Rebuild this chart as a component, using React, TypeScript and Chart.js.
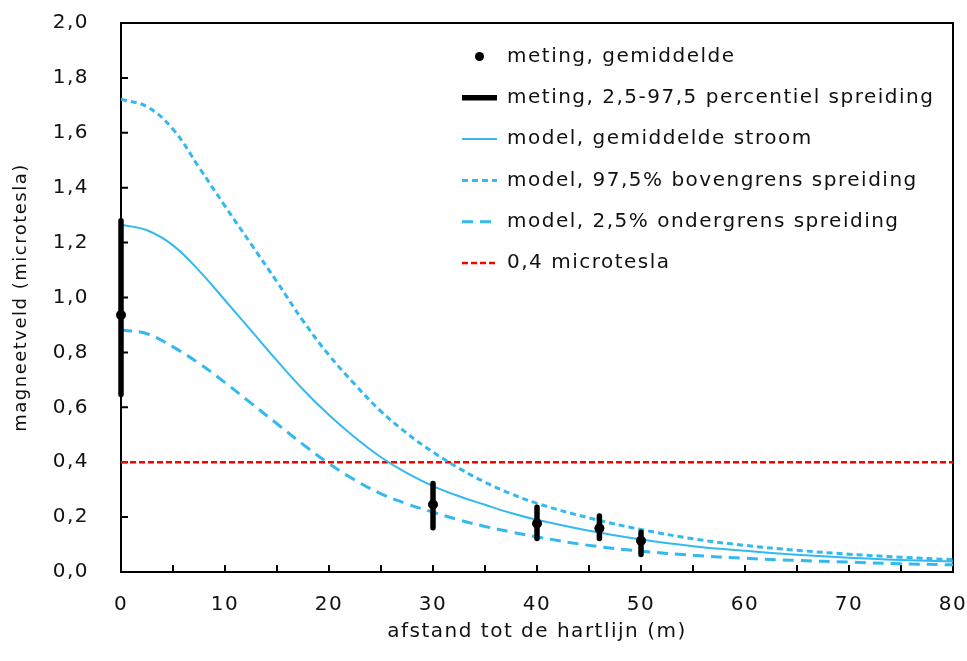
import React, { useEffect, useRef } from 'react';
import { Chart, registerables } from 'chart.js';

Chart.register(...registerables);

const FONT = '"DejaVu Sans", Verdana, sans-serif';
const BLUE = '#33b9ef';
const SPACING = '1.5px';

// model curves (afstand in m → microtesla)
const modelDistance = [0, 2.5, 5, 7.5, 10, 12.5, 15, 17.5, 20, 22.5, 25, 27.5, 30, 32.5, 35, 37.5, 40, 45, 50, 55, 60, 65, 70, 75, 80];
const modelMean = [1.265, 1.245, 1.19, 1.098, 0.99, 0.88, 0.77, 0.665, 0.572, 0.49, 0.418, 0.36, 0.313, 0.276, 0.245, 0.215, 0.19, 0.15, 0.118, 0.094, 0.077, 0.063, 0.052, 0.044, 0.038];
const modelUpper = [1.722, 1.695, 1.613, 1.474, 1.333, 1.195, 1.057, 0.915, 0.79, 0.683, 0.585, 0.505, 0.437, 0.378, 0.327, 0.285, 0.25, 0.197, 0.155, 0.121, 0.097, 0.079, 0.065, 0.054, 0.045];
const modelLower = [0.882, 0.868, 0.82, 0.76, 0.69, 0.615, 0.54, 0.465, 0.395, 0.335, 0.285, 0.248, 0.218, 0.19, 0.166, 0.146, 0.128, 0.097, 0.076, 0.061, 0.05, 0.042, 0.036, 0.03, 0.026];

// measurements
const measDistance = [0, 30, 40, 46, 50];
const measMean = [0.936, 0.246, 0.177, 0.159, 0.114];
const measLow = [0.647, 0.161, 0.122, 0.122, 0.064];
const measHigh = [1.28, 0.322, 0.236, 0.204, 0.145];

const limitValue = 0.4;

const xTickValues = [0, 5, 10, 15, 20, 25, 30, 35, 40, 45, 50, 55, 60, 65, 70, 75, 80];
const yTickValues = [0, 0.2, 0.4, 0.6, 0.8, 1.0, 1.2, 1.4, 1.6, 1.8, 2.0];

const legendLabels = [
  'meting, gemiddelde',
  'meting, 2,5-97,5 percentiel spreiding',
  'model, gemiddelde stroom',
  'model, 97,5% bovengrens spreiding',
  'model, 2,5% ondergrens spreiding',
  '0,4 microtesla',
];

const xTitle = 'afstand tot de hartlijn (m)';
const yTitle = 'magneetveld (microtesla)';

const spacingPlugin = {
  id: 'spacing',
  beforeLayout(chart: any) {
    chart.ctx.letterSpacing = SPACING;
  },
  beforeDraw(chart: any) {
    chart.ctx.letterSpacing = SPACING;
  },
};

const framePlugin = {
  id: 'frame',
  beforeDatasetsDraw(chart: any) {
    const { ctx, chartArea: a, scales } = chart;
    ctx.save();
    ctx.strokeStyle = '#000';
    ctx.lineWidth = 2;
    ctx.strokeRect(a.left, a.top, a.right - a.left, a.bottom - a.top);
    ctx.beginPath();
    xTickValues.forEach((v) => {
      const px = scales.x.getPixelForValue(v);
      ctx.moveTo(px, a.bottom);
      ctx.lineTo(px, a.bottom - 7);
    });
    yTickValues.forEach((v) => {
      const py = scales.y.getPixelForValue(v);
      ctx.moveTo(a.left, py);
      ctx.lineTo(a.left + 7, py);
    });
    ctx.stroke();
    ctx.restore();
  },
};

const legendPlugin = {
  id: 'innerLegend',
  afterDatasetsDraw(chart: any) {
    const { ctx } = chart;
    const ds = chart.data.datasets;
    const x0 = 462;
    const x1 = 497;
    const textX = 507;
    const y0 = 56.5;
    const dy = 41.3;
    ctx.save();
    ctx.letterSpacing = SPACING;
    ctx.font = `20px ${FONT}`;
    ctx.textBaseline = 'middle';
    ctx.textAlign = 'left';
    legendLabels.forEach((label, i) => {
      const y = y0 + i * dy;
      const d = ds[i];
      if (i === 0) {
        ctx.fillStyle = '#000';
        ctx.beginPath();
        ctx.arc((x0 + x1) / 2, y, 4.5, 0, Math.PI * 2);
        ctx.fill();
      } else {
        ctx.strokeStyle = d.borderColor;
        ctx.lineWidth = d.borderWidth;
        ctx.setLineDash(d.borderDash || []);
        ctx.lineCap = 'butt';
        ctx.beginPath();
        ctx.moveTo(x0, y);
        ctx.lineTo(x1, y);
        ctx.stroke();
        ctx.setLineDash([]);
      }
      ctx.fillStyle = '#111';
      ctx.fillText(label, textX, y);
    });
    ctx.restore();
  },
};

export default function App() {
  const ref = useRef<HTMLCanvasElement | null>(null);

  useEffect(() => {
    if (!ref.current) return;
    const pts = (xs: number[], ys: number[]) => xs.map((x, i) => ({ x, y: ys[i] }));
    const errorBars: any[] = [];
    measDistance.forEach((x, i) => {
      errorBars.push({ x, y: measLow[i] });
      errorBars.push({ x, y: measHigh[i] });
      errorBars.push({ x, y: null });
    });

    const chart = new Chart(ref.current, {
      type: 'line',
      data: {
        datasets: [
          {
            label: legendLabels[0],
            data: pts(measDistance, measMean),
            showLine: false,
            pointRadius: 5,
            pointBackgroundColor: '#000',
            pointBorderWidth: 0,
            borderColor: '#000',
            backgroundColor: '#000',
            clip: false,
          },
          {
            label: legendLabels[1],
            data: errorBars,
            borderColor: '#000',
            borderWidth: 5.5,
            borderCapStyle: 'round',
            pointRadius: 0,
            spanGaps: false,
            clip: false,
          },
          {
            label: legendLabels[2],
            data: pts(modelDistance, modelMean),
            borderColor: BLUE,
            borderWidth: 2,
            pointRadius: 0,
            tension: 0.4,
          },
          {
            label: legendLabels[3],
            data: pts(modelDistance, modelUpper),
            borderColor: BLUE,
            borderWidth: 3,
            borderDash: [6, 4],
            pointRadius: 0,
            tension: 0.4,
          },
          {
            label: legendLabels[4],
            data: pts(modelDistance, modelLower),
            borderColor: BLUE,
            borderWidth: 3,
            borderDash: [11, 7],
            pointRadius: 0,
            tension: 0.4,
          },
          {
            label: legendLabels[5],
            data: [
              { x: xTickValues[0], y: limitValue },
              { x: xTickValues[xTickValues.length - 1], y: limitValue },
            ],
            borderColor: '#ff0000',
            borderWidth: 2.5,
            borderDash: [6, 3],
            pointRadius: 0,
          },
        ] as any,
      },
      options: {
        animation: false,
        responsive: true,
        maintainAspectRatio: false,
        layout: { padding: { top: 23, right: 14, left: 0, bottom: 0 } },
        plugins: {
          legend: { display: false },
          tooltip: { enabled: false },
        },
        scales: {
          x: {
            type: 'linear',
            min: 0,
            max: 80,
            grid: { display: false },
            border: { display: false },
            afterFit: (s: any) => {
              s.height = 89;
              s.paddingLeft = 0;
              s.paddingRight = 0;
            },
            ticks: {
              stepSize: 5,
              autoSkip: false,
              maxRotation: 0,
              padding: 13,
              color: '#111',
              font: { family: FONT, size: 20 },
              callback: (v: any) => (Number(v) % 10 === 0 ? String(v) : ''),
            },
            title: {
              display: true,
              text: xTitle,
              color: '#111',
              font: { family: FONT, size: 20 },
              padding: { top: 0, bottom: 17 },
            },
          },
          y: {
            type: 'linear',
            min: 0,
            max: 2,
            grid: { display: false },
            border: { display: false },
            afterFit: (s: any) => {
              s.width = 121;
              s.paddingTop = 0;
              s.paddingBottom = 0;
            },
            ticks: {
              stepSize: 0.2,
              padding: 24,
              color: '#111',
              font: { family: FONT, size: 20 },
              callback: (v: any) => Number(v).toFixed(1).replace('.', ','),
            },
            title: {
              display: true,
              text: yTitle,
              color: '#111',
              font: { family: FONT, size: 18 },
              padding: { top: 11, bottom: 0 },
            },
          },
        },
      } as any,
      plugins: [spacingPlugin, framePlugin, legendPlugin],
    });
    return () => chart.destroy();
  }, []);

  return (
    <div style={{ position: 'fixed', left: 0, top: 0, width: 967, height: 661, background: '#fff' }}>
      <canvas ref={ref} />
    </div>
  );
}
